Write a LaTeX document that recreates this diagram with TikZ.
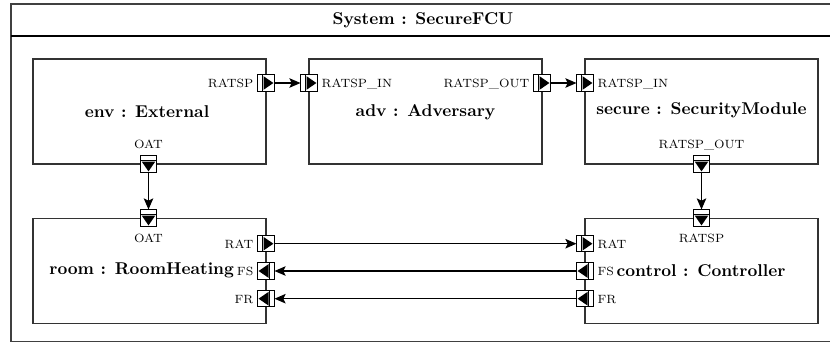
\documentclass[tikz,border=0pt]{standalone}
\usetikzlibrary{calc,arrows.meta}
\tikzset{
  blk/.style={draw=black!80, line width=0.65pt, minimum width=136.3pt, minimum height=61.4pt, inner sep=0pt},
  portbox/.style={draw=black, fill=white, line width=0.6pt, minimum size=9.4pt, inner sep=0pt},
  plab/.style={font=\scriptsize, inner sep=2.2pt, text height=1.5ex, text depth=0.3ex},
  btitle/.style={font=\bfseries, inner sep=0pt},
  conn/.style={draw=black, line width=0.6pt, -{Stealth[length=6.5pt,width=5.6pt,inset=1.4pt]}}
}
\newcommand{\myport}[3]{%
  \node[portbox] (#1) at (#2) {};
  \begin{scope}[shift={(#1.center)}, rotate=#3]
    \draw[line width=0.55pt] (-3.4,-8) -- (-3.4,8);
    \fill[black] (-2.5,-6.8) -- (7.4,0) -- (-2.5,6.8) -- cycle;
  \end{scope}
}
\begin{document}
\begin{tikzpicture}[x=0.585pt, y=-0.585pt]
\useasboundingbox (0,0) rectangle (830,343);
% outer frame
\draw[draw=black!75, line width=0.65pt] (11,4) rectangle (835,341.5);
\draw[black, line width=0.75pt] (11,36) -- (835,36);
\node[btitle] (title) at (423,20) {System : SecureFCU};
% blocks
\node[blk] (env) at (149.5,111.5) {};
\node[blk] (adv) at (425.5,111.5) {};
\node[blk] (sec) at (701.5,111.5) {};
\node[blk] (room) at (149.5,271) {};
\node[blk] (ctrl) at (701.5,271) {};
\node[btitle] (envT) at (147,112) {env : External};
\node[btitle] (advT) at (425.5,112) {adv : Adversary};
\node[btitle] (secT) at (701.5,110) {secure : SecurityModule};
\node[btitle] (roomT) at (141.7,270.5) {room : RoomHeating};
\node[btitle] (ctrlT) at (701,270.5) {control : Controller};
% ports
\myport{envR}{266,83}{0}
\myport{advIn}{309,83}{0}
\myport{advOut}{542,83}{0}
\myport{secIn}{585,83}{0}
\myport{envOAT}{148.5,164}{-90}
\myport{secOut}{701.5,164}{-90}
\myport{roomOAT}{148.5,218}{-90}
\myport{ctrlIn}{701.5,218}{-90}
\myport{roomRAT}{266,243.7}{0}
\myport{roomFS}{266,271}{180}
\myport{roomFR}{266,298.7}{180}
\myport{ctrlRAT}{585,243.7}{0}
\myport{ctrlFS}{585,271}{180}
\myport{ctrlFR}{585,298.7}{180}
% port labels
\node[plab, anchor=east] (lEnvR) at (envR.west) {RATSP};
\node[plab, anchor=west] (lAdvIn) at (advIn.east) {RATSP\_IN};
\node[plab, anchor=east] (lAdvOut) at (advOut.west) {RATSP\_OUT};
\node[plab, anchor=west] (lSecIn) at (secIn.east) {RATSP\_IN};
\node[plab, anchor=south] (lEnvOAT) at ([yshift=0.5pt]envOAT.north) {OAT};
\node[plab, anchor=south] (lSecOut) at ([yshift=0.5pt]secOut.north) {RATSP\_OUT};
\node[plab, anchor=north] (lRoomOAT) at ([yshift=-0.5pt]roomOAT.south) {OAT};
\node[plab, anchor=north] (lCtrlIn) at ([yshift=-0.5pt]ctrlIn.south) {RATSP};
\node[plab, anchor=east] (lRoomRAT) at (roomRAT.west) {RAT};
\node[plab, anchor=east] (lRoomFS) at (roomFS.west) {FS};
\node[plab, anchor=east] (lRoomFR) at (roomFR.west) {FR};
\node[plab, anchor=west] (lCtrlRAT) at (ctrlRAT.east) {RAT};
\node[plab, anchor=west] (lCtrlFS) at (ctrlFS.east) {FS};
\node[plab, anchor=west] (lCtrlFR) at (ctrlFR.east) {FR};
% connectors
\draw[conn] (envR.east) -- (advIn.west);
\draw[conn] (advOut.east) -- (secIn.west);
\draw[conn] (envOAT.south) -- (roomOAT.north);
\draw[conn] (secOut.south) -- (ctrlIn.north);
\draw[conn] (roomRAT.east) -- (ctrlRAT.west);
\draw[conn] (ctrlFS.west) -- (roomFS.east);
\draw[conn] (ctrlFR.west) -- (roomFR.east);
\end{tikzpicture}
\end{document}
